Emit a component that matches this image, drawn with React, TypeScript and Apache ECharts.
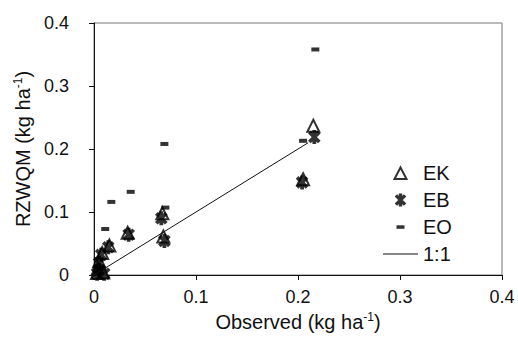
import React, { useEffect, useRef } from "react";
import * as echarts from "echarts";

const ekPoints: number[][] = [
  [0.215, 0.237], [0.205, 0.152], [0.067, 0.098], [0.068, 0.061], [0.033, 0.067],
  [0.015, 0.047], [0.008, 0.035], [0.005, 0.022], [0.004, 0.011], [0.003, 0.003], [0.009, 0.004],
];
const ebPoints: number[][] = [
  [0.216, 0.219], [0.204, 0.147], [0.066, 0.09], [0.069, 0.054], [0.034, 0.064],
  [0.014, 0.044], [0.007, 0.032], [0.005, 0.019], [0.005, 0.008], [0.003, 0.002], [0.01, 0.002],
];
const eoPoints: number[][] = [
  [0.217, 0.358], [0.205, 0.213], [0.069, 0.208], [0.07, 0.107], [0.036, 0.132],
  [0.017, 0.116], [0.011, 0.073], [0.006, 0.01], [0.004, 0.003],
];
const oneToOne: number[][] = [[0, 0], [0.21, 0.21]];
const seriesNames = ["EK", "EB", "EO", "1:1"];

const FONT = "'Liberation Sans', Arial, sans-serif";

function asterisk(cx: number, cy: number, r: number, w: number): string {
  const angles = [90, 45, 135];
  let d = "";
  for (const a of angles) {
    const t = (a * Math.PI) / 180;
    const c = Math.cos(t), s = Math.sin(t);
    const pts = [[-r, -w], [r, -w], [r, w], [-r, w]].map(([x, y]) => [
      cx + x * c - y * s,
      cy + x * s + y * c,
    ]);
    d += `M${pts[0][0].toFixed(2)} ${pts[0][1].toFixed(2)}`;
    for (let i = 1; i < 4; i++) d += `L${pts[i][0].toFixed(2)} ${pts[i][1].toFixed(2)}`;
    d += "Z";
  }
  return d;
}

const ebSymbol = "path://M-1 -1M1 1" + asterisk(0, 0, 1, 0.27);
const ebLegend = "path://M0 0M35 14" + asterisk(17.5, 7, 6.5, 1.7);
const ekLegend = "path://M0 0M35 14M11.5 13L17.5 1.5L23.5 13Z";
const eoLegend = "path://M0 0M35 14M13.5 5.3h8v3.5h-8Z";
const lineLegend = "path://M0 0M35 14M0 6.6h35v0.9h-35Z";

export default function App() {
  const ref = useRef<HTMLDivElement>(null);
  useEffect(() => {
    if (!ref.current) return;
    const chart = echarts.init(ref.current, undefined, { renderer: "svg" });
    chart.setOption({
      animation: false,
      backgroundColor: "#fff",
      grid: {
        left: 94, right: 16, top: 23, bottom: 74,
        show: true, borderColor: "#777", borderWidth: 1,
      },
      legend: {
        orient: "vertical",
        left: 377,
        top: 158,
        itemWidth: 35,
        itemHeight: 14,
        itemGap: 7,
        textStyle: { fontFamily: FONT, fontSize: 20, color: "#111", lineHeight: 20 },
        data: [
          { name: seriesNames[0], icon: ekLegend },
          { name: seriesNames[1], icon: ebLegend },
          { name: seriesNames[2], icon: eoLegend },
          { name: seriesNames[3], icon: lineLegend, itemStyle: { color: "#111", borderWidth: 0 } },
        ],
      },
      xAxis: {
        type: "value",
        min: 0, max: 0.4, interval: 0.1,
        name: "{a|Observed (kg ha}{s|-1}{a|)}",
        nameLocation: "middle",
        nameGap: 36,
        nameTextStyle: {
          rich: {
            a: { fontFamily: FONT, fontSize: 20, color: "#111", lineHeight: 22 },
            s: { fontFamily: FONT, fontSize: 12, color: "#111", lineHeight: 12, verticalAlign: "top" },
          },
        },
        axisLine: { show: true, lineStyle: { color: "#111", width: 1 } },
        axisTick: { show: true, inside: false, length: 5, lineStyle: { color: "#111" } },
        axisLabel: { fontFamily: FONT, fontSize: 18, color: "#111", margin: 13 },
        splitLine: { show: false },
      },
      yAxis: {
        type: "value",
        min: 0, max: 0.4, interval: 0.1,
        name: "{a|RZWQM (kg ha}{s|-1}{a|)}",
        nameLocation: "middle",
        nameRotate: 90,
        nameGap: 56,
        nameTextStyle: {
          rich: {
            a: { fontFamily: FONT, fontSize: 20, color: "#111", lineHeight: 22 },
            s: { fontFamily: FONT, fontSize: 12, color: "#111", lineHeight: 12, verticalAlign: "top" },
          },
        },
        axisLine: { show: true, lineStyle: { color: "#111", width: 1 } },
        axisTick: { show: true, inside: false, length: 5, lineStyle: { color: "#111" } },
        axisLabel: { fontFamily: FONT, fontSize: 18, color: "#111", margin: 25 },
        splitLine: { show: false },
      },
      series: [
        {
          name: seriesNames[0],
          type: "scatter",
          symbol: "triangle",
          symbolSize: 12,
          itemStyle: { color: "#fff", borderColor: "#000", borderWidth: 2 },
          data: ekPoints,
          z: 2,
        },
        {
          name: seriesNames[1],
          type: "scatter",
          symbol: ebSymbol,
          symbolSize: 14,
          itemStyle: { color: "#000" },
          data: ebPoints,
          z: 3,
        },
        {
          name: seriesNames[2],
          type: "scatter",
          symbol: "rect",
          symbolSize: [8, 4],
          itemStyle: { color: "#000" },
          data: eoPoints,
          z: 4,
        },
        {
          name: seriesNames[3],
          type: "line",
          symbol: "none",
          lineStyle: { color: "#111", width: 1 },
          itemStyle: { color: "#111" },
          data: oneToOne,
          z: 5,
        },
      ],
    });
    return () => chart.dispose();
  }, []);
  return (
    <div
      ref={ref}
      style={{ position: "fixed", left: 0, top: 0, width: 518, height: 349, background: "#fff" }}
    />
  );
}
